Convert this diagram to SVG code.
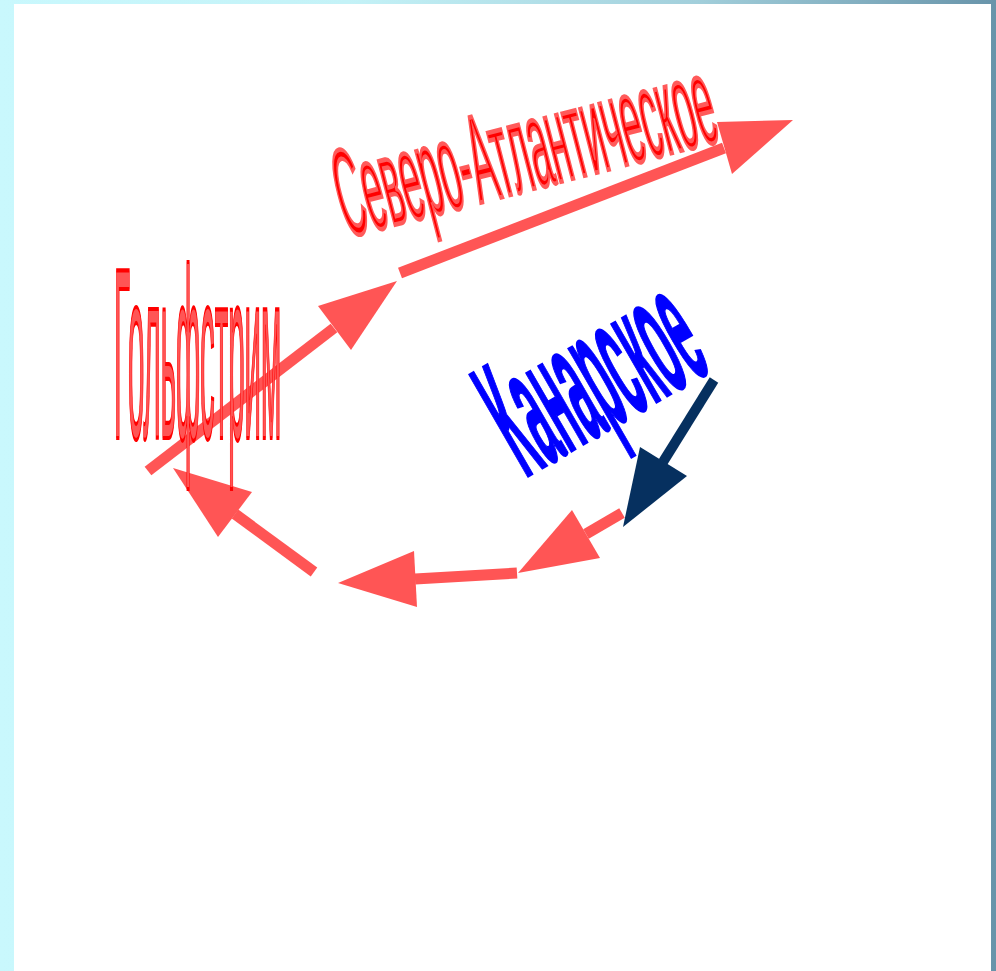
<svg xmlns="http://www.w3.org/2000/svg" width="996" height="971" viewBox="0 0 996 971">
  <defs>
    <linearGradient id="bg" x1="0" y1="0" x2="1" y2="0">
      <stop offset="0" stop-color="#c9f8fd"/>
      <stop offset="0.35" stop-color="#c4f2f7"/>
      <stop offset="0.7" stop-color="#a2cfdb"/>
      <stop offset="1" stop-color="#6894aa"/>
    </linearGradient>
  </defs>
  <style>
    .red line { stroke: #ff5555; stroke-width: 11; }
    .red polygon { fill: #ff5555; }
    .navy line { stroke: #06305f; stroke-width: 10; }
    .navy polygon { fill: #06305f; }
    .lbl { font-family: "Liberation Sans", Arial, sans-serif; vector-effect: non-scaling-stroke; }
    .redtxt { fill: #ff5555; stroke: #ff0000; stroke-width: 3; }
    .redtxt2 { fill: #ff0000; stroke: #ff5a5a; stroke-width: 3.5; }
    .bluetxt { fill: #0000ff; stroke: #0000ff; stroke-width: 2; font-weight: bold; }
  </style>
  <rect x="0" y="0" width="996" height="971" fill="url(#bg)"/>
  <rect x="14" y="4" width="977" height="967" fill="#ffffff"/>

  <g id="connectors">
    <g id="arrow-gulf" class="red">
      <line x1="148" y1="471" x2="334" y2="328"/>
      <polygon points="318,306 397,281 351,350"/>
    </g>
    <g id="arrow-north-atlantic" class="red">
      <line x1="400" y1="273" x2="724" y2="148"/>
      <polygon points="717,122 793,120 732,174"/>
    </g>
    <g id="arrow-canary" class="navy">
      <line x1="714" y1="380" x2="663" y2="462"/>
      <polygon points="640,447 687,476 623,527"/>
    </g>
    <g id="arrow-return-1" class="red">
      <line x1="622" y1="513" x2="586" y2="534"/>
      <polygon points="572,510 600,558 518,573"/>
    </g>
    <g id="arrow-return-2" class="red">
      <line x1="517" y1="573" x2="415" y2="579"/>
      <polygon points="414,551 417,607 338,583"/>
    </g>
    <g id="arrow-return-3" class="red">
      <line x1="314" y1="572" x2="235" y2="514"/>
      <polygon points="252,492 218,537 173,468"/>
    </g>
  </g>

  <g id="label-gulfstream">
    <text class="lbl redtxt" transform="translate(114,438) scale(0.12,1)" x="0" y="0" font-size="244" textLength="1392" lengthAdjust="spacingAndGlyphs">Гольфстрим</text>
  </g>
  <g id="label-north-atlantic">
    <text class="lbl redtxt2" transform="translate(347,237) rotate(-14.5) scale(0.34,1)" x="0" y="0" font-size="124" textLength="1140" lengthAdjust="spacingAndGlyphs">Северо-Атлантическое</text>
  </g>
  <g id="label-canary">
    <text class="lbl bluetxt" transform="translate(525,478) rotate(-30) scale(0.25,1)" x="0" y="0" font-size="170" textLength="872" lengthAdjust="spacingAndGlyphs">Канарское</text>
  </g>
</svg>
